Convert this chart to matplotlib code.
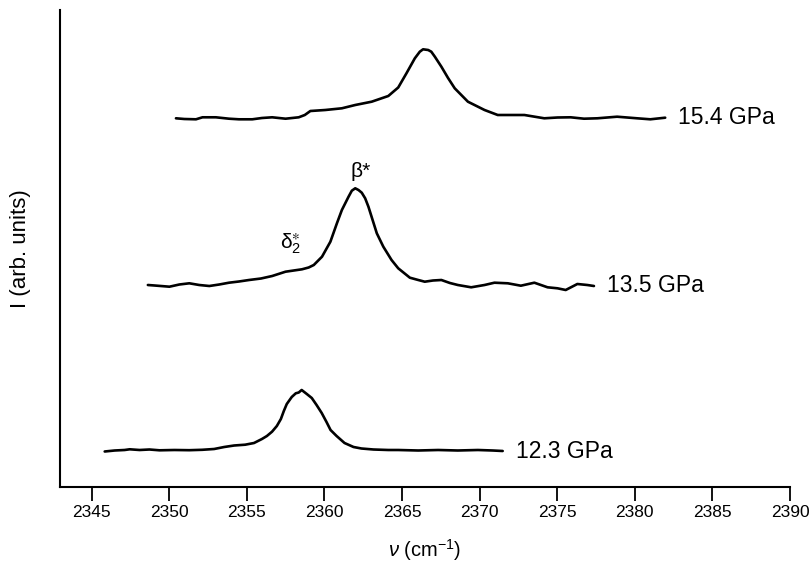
import matplotlib
matplotlib.use("Agg")
import matplotlib.pyplot as plt

plt.rcParams['font.family'] = ['Liberation Sans', 'DejaVu Sans']
plt.rcParams['mathtext.fontset'] = 'custom'
plt.rcParams['mathtext.rm'] = 'Liberation Sans'
plt.rcParams['mathtext.it'] = 'Liberation Sans:italic'

# Spectrum at 12.3 GPa
nu_123 = [2345.85, 2346.49, 2347.13, 2347.46, 2348.10, 2348.73, 2349.38, 2350.34, 2351.30,
          2352.13, 2352.90, 2353.55, 2354.19, 2354.90, 2355.47, 2355.98, 2356.30, 2356.63,
          2356.94, 2357.20, 2357.39, 2357.58, 2357.90, 2358.16, 2358.35, 2358.54, 2358.87,
          2359.19, 2359.50, 2359.83, 2360.14, 2360.40, 2360.79, 2361.30, 2361.88, 2362.39,
          2363.16, 2364.12, 2364.76, 2366.05, 2367.33, 2368.60, 2369.89, 2370.85, 2371.49]
I_123 = [0.355, 0.365, 0.370, 0.377, 0.370, 0.375, 0.367, 0.370, 0.368,
         0.372, 0.380, 0.400, 0.415, 0.423, 0.440, 0.480, 0.510, 0.553,
         0.610, 0.680, 0.760, 0.830, 0.900, 0.937, 0.945, 0.970, 0.930,
         0.890, 0.820, 0.740, 0.650, 0.570, 0.510, 0.440, 0.400, 0.385,
         0.375, 0.370, 0.370, 0.365, 0.370, 0.365, 0.370, 0.365, 0.360]

# Spectrum at 13.5 GPa
nu_135 = [2348.63, 2349.06, 2350.02, 2350.66, 2351.30, 2351.94, 2352.59, 2353.23, 2353.86,
          2354.50, 2355.15, 2355.92, 2356.64, 2357.50, 2358.03, 2358.56, 2358.99, 2359.32,
          2359.85, 2360.39, 2360.81, 2361.13, 2361.56, 2361.77, 2361.99, 2362.20, 2362.41,
          2362.63, 2362.84, 2363.38, 2363.80, 2364.33, 2364.76, 2365.51, 2366.05, 2366.47,
          2367.00, 2367.54, 2368.09, 2368.60, 2369.46, 2370.32, 2370.96, 2371.82, 2372.66,
          2373.53, 2374.38, 2375.02, 2375.55, 2376.30, 2376.94, 2377.37]
I_135 = [2.020, 2.015, 2.003, 2.025, 2.037, 2.020, 2.010, 2.025, 2.043,
         2.055, 2.070, 2.085, 2.110, 2.153, 2.165, 2.177, 2.195, 2.220,
         2.303, 2.453, 2.637, 2.770, 2.903, 2.963, 2.987, 2.970, 2.943,
         2.887, 2.803, 2.537, 2.403, 2.270, 2.187, 2.093, 2.070, 2.053,
         2.065, 2.070, 2.040, 2.020, 1.997, 2.020, 2.043, 2.037, 2.013,
         2.043, 1.997, 1.987, 1.970, 2.030, 2.020, 2.010]

# Spectrum at 15.4 GPa
nu_154 = [2350.44, 2350.98, 2351.73, 2352.15, 2353.01, 2353.86, 2354.50, 2355.36, 2355.98,
          2356.64, 2357.50, 2358.35, 2358.74, 2359.10, 2360.06, 2361.13, 2361.99, 2363.05,
          2364.12, 2364.76, 2365.29, 2365.83, 2366.15, 2366.36, 2366.69, 2366.89, 2367.12,
          2367.33, 2367.54, 2367.97, 2368.40, 2369.25, 2370.32, 2371.17, 2372.00, 2372.89,
          2374.17, 2375.02, 2375.87, 2376.73, 2377.59, 2378.86, 2380.15, 2381.00, 2381.96]
I_154 = [3.687, 3.680, 3.677, 3.697, 3.697, 3.683, 3.677, 3.677, 3.690,
         3.697, 3.683, 3.697, 3.720, 3.760, 3.770, 3.787, 3.820, 3.853,
         3.910, 3.995, 4.137, 4.287, 4.353, 4.377, 4.370, 4.353, 4.303,
         4.253, 4.203, 4.090, 3.987, 3.853, 3.770, 3.720, 3.720, 3.720,
         3.687, 3.695, 3.697, 3.683, 3.687, 3.703, 3.687, 3.677, 3.693]

series = [(nu_123, I_123, "12.3 GPa"), (nu_135, I_135, "13.5 GPa"), (nu_154, I_154, "15.4 GPa")]
xticks = [2345, 2350, 2355, 2360, 2365, 2370, 2375, 2380, 2385, 2390]

fig = plt.figure(figsize=(8.11, 5.63), dpi=100)
ax = fig.add_axes([60/811, 1-487/563, (790-60)/811, (487-10)/563])

for nu, I, lab in series:
    ax.plot(nu, I, color='black', lw=1.9, solid_joinstyle='round', solid_capstyle='round')
    ax.text(nu[-1] + 0.85, I[-1], lab, fontsize=16.5, va='center', ha='left')

ax.text(2362.33, 3.15, 'β*', fontsize=15, ha='center', va='center')
ax.text(2357.84, 2.43, r'$\mathregular{δ_2^{\ast}}$', fontsize=15, ha='center', va='center')

ax.set_xlim(2342.97, 2390)
ax.set_ylim(0, 4.77)
ax.set_xticks(xticks)
ax.set_xticklabels([str(t) for t in xticks], fontsize=12.5)
ax.set_yticks([])
ax.tick_params(axis='x', direction='out', length=10, width=1.3, pad=3)
for s in ['top', 'right']:
    ax.spines[s].set_visible(False)
for s in ['left', 'bottom']:
    ax.spines[s].set_linewidth(1.5)

ax.set_xlabel(r'$\mathit{ν}$ (cm$^{\mathregular{-1}}$)', fontsize=14.5, va='top')
ax.xaxis.set_label_coords(0.5, -0.105)
ax.set_ylabel('I (arb. units)', fontsize=16)
ax.yaxis.set_label_coords(-0.04, 0.5)

fig.savefig('out.png', dpi=100)
